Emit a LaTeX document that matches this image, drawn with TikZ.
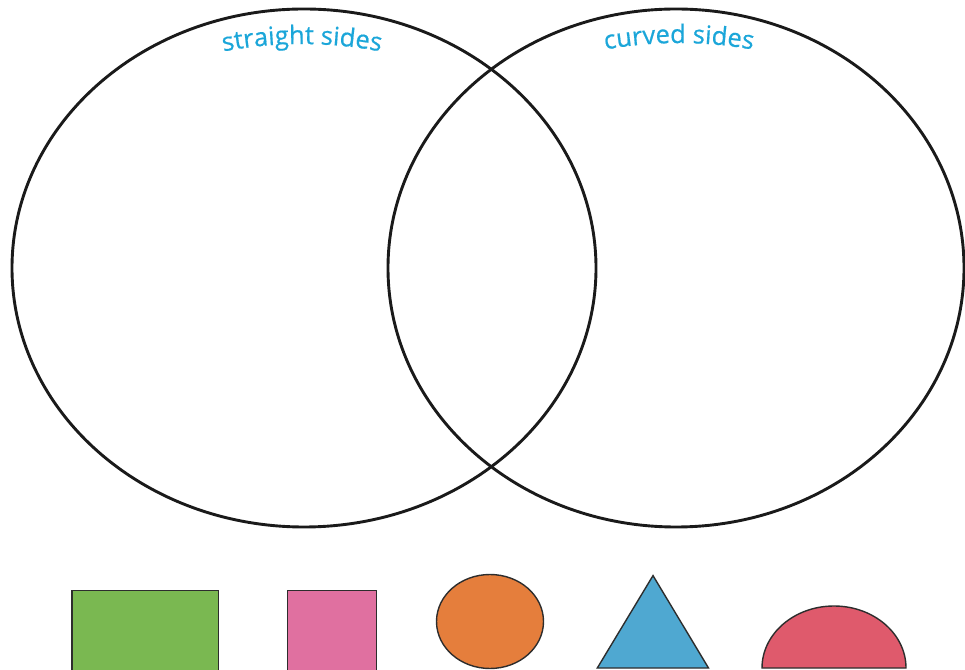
\documentclass[tikz,border=0pt]{standalone}
\usepackage{fontspec}
\setmainfont{Open Sans}
\usetikzlibrary{decorations.text}
\definecolor{lbl}{HTML}{1BA6D9}
\definecolor{ring}{HTML}{1A1A1A}
\definecolor{edge}{HTML}{2D2D2D}
\definecolor{cgreen}{HTML}{7AB851}
\definecolor{cpink}{HTML}{E070A0}
\definecolor{corange}{HTML}{E57E3C}
\definecolor{cblue}{HTML}{4FA8D1}
\definecolor{cred}{HTML}{DF5A6C}
\newfontfamily\lblface[FakeBold=0.6]{Open Sans}
\newcommand{\lblfont}{\lblface\fontsize{25.5}{25.5}\selectfont\color{lbl}}
\tikzset{
  ringline/.style={draw=ring, line width=2.9pt},
  shapeline/.style={draw=edge, line width=1.4pt},
  arclabel/.style={decorate, decoration={text along path, text align=center, text={|\lblfont|#1}}}
}
\begin{document}
\begin{tikzpicture}[x=1pt,y=1pt]
\useasboundingbox (0,0) rectangle (965,669);
% Venn circles
\draw[ringline] (304,401) ellipse [x radius=292, y radius=259];
\draw[ringline] (676,401) ellipse [x radius=288, y radius=259];
% curved labels
\path[arclabel={straight sides}] (200.4,612.5) arc[start angle=104, end angle=76, radius=420];
\path[arclabel={curved sides}] (577.4,613.5) arc[start angle=104, end angle=76, radius=420];
% shapes
\filldraw[shapeline, fill=cgreen] (72,78.3) rectangle (218.5,-5);
\filldraw[shapeline, fill=cpink] (287.5,78.3) rectangle (376.5,-5);
\filldraw[shapeline, fill=corange] (490,47.5) ellipse [x radius=53.5, y radius=47];
\filldraw[shapeline, fill=cblue, line join=miter] (597.3,1) -- (653,93.4) -- (708.5,1) -- cycle;
\filldraw[shapeline, fill=cred] (906,1) arc[start angle=0, end angle=180, x radius=72, y radius=62] -- cycle;
\end{tikzpicture}
\end{document}
